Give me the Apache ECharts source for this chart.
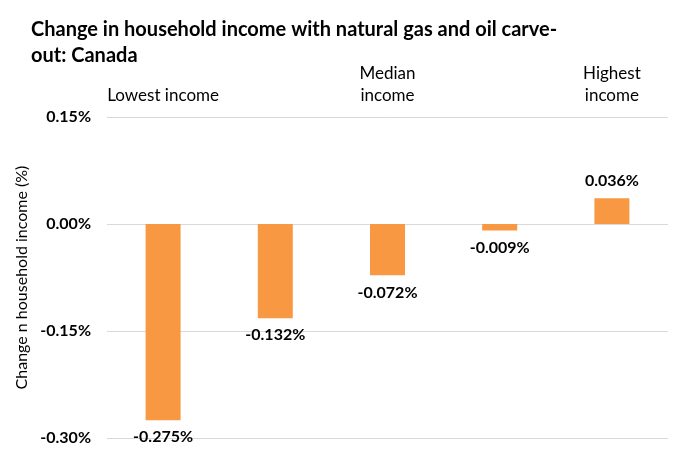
<!DOCTYPE html>
<html>
<head>
<meta charset="utf-8">
<script src="https://cdn.jsdelivr.net/npm/echarts@6/dist/echarts.min.js"></script>
<style>
  html, body { margin: 0; padding: 0; background: #fff; }
  #chart { width: 680px; height: 470px; }
</style>
</head>
<body>
<div id="chart"></div>
<script>
// 收入组 (顶部标签)
var categories = ['Lowest income', '', 'Median\nincome', '', 'Highest\nincome'];
// 家庭收入变化 (%)
var values = [-0.275, -0.132, -0.072, -0.009, 0.036];
var yTicks = [-0.30, -0.15, 0.00, 0.15];

var font = 'Lato, "Open Sans", sans-serif';
var chart = echarts.init(document.getElementById('chart'));

var option = {
    animation: false,
    backgroundColor: '#fff',
    title: {
        text: 'Change in household income with natural gas and oil carve-\nout: Canada',
        left: 26,
        top: 12,
        textStyle: {
            fontFamily: font,
            fontSize: 20,
            fontWeight: 'bold',
            color: '#000',
            lineHeight: 26
        }
    },
    grid: {
        left: 107,
        right: 12,
        top: 117,
        bottom: 32
    },
    xAxis: {
        type: 'category',
        position: 'top',
        data: categories,
        axisLine: {show: false},
        axisTick: {show: false},
        axisLabel: {
            margin: 10,
            fontFamily: font,
            fontSize: 17,
            color: '#000',
            lineHeight: 22,
            verticalAlign: 'bottom',
            interval: 0
        }
    },
    yAxis: {
        type: 'value',
        min: yTicks[0],
        max: yTicks[yTicks.length - 1],
        interval: 0.15,
        name: 'Change n household income (%)',
        nameLocation: 'middle',
        nameGap: 74,
        nameRotate: 90,
        nameTextStyle: {
            fontFamily: font,
            fontSize: 16,
            color: '#000'
        },
        axisLine: {show: false},
        axisTick: {show: false},
        axisLabel: {
            margin: 16,
            fontFamily: font,
            fontSize: 16,
            fontWeight: 'bold',
            color: '#000',
            formatter: function (v) {
                return v.toFixed(2) + '%';
            }
        },
        splitLine: {lineStyle: {color: '#d9d9d9', width: 1}}
    },
    series: [
        {
            type: 'bar',
            data: values.map(function (v) {
                return {
                    value: v,
                    label: {position: v < 0 ? 'bottom' : 'top'}
                };
            }),
            barWidth: 35,
            itemStyle: {color: '#F99842'},
            label: {
                show: true,
                distance: 9,
                fontFamily: font,
                fontSize: 16,
                fontWeight: 'bold',
                color: '#000',
                formatter: function (p) {
                    return p.value.toFixed(3) + '%';
                }
            }
        }
    ]
};
chart.setOption(option);
</script>
</body>
</html>
